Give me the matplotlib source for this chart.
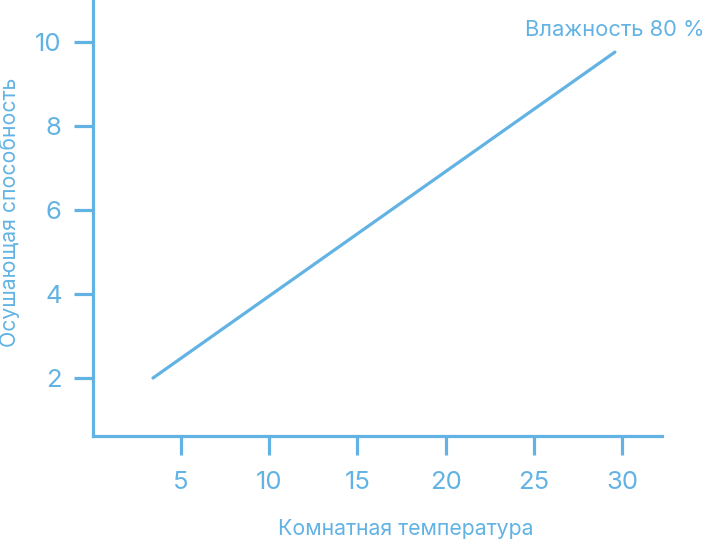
import matplotlib
matplotlib.use("Agg")
import matplotlib.pyplot as plt

temperature = [3.4, 29.6]
capacity = [2.0, 9.76]
xticks = [5, 10, 15, 20, 25, 30]
yticks = [2, 4, 6, 8, 10]
series_label = "Влажность 80 %"
xlabel = "Комнатная температура"
ylabel = "Осушающая способность"

color = "#62b3e4"
plt.rcParams['font.family'] = ['Inter', 'DejaVu Sans']

fig = plt.figure(figsize=(7.06, 5.43), dpi=100)
ax = fig.add_axes([93/706, (543-436)/543, (662-93)/706, 436/543])
ax.plot(temperature, capacity, color=color, lw=2.3, solid_capstyle='round')
ax.set_xlim(0, 32.27)
ax.set_ylim(0.62, 11.0)
ax.set_xticks(xticks)
ax.set_yticks(yticks)
for s in ['top', 'right']:
    ax.spines[s].set_visible(False)
for s in ['left', 'bottom']:
    ax.spines[s].set_color(color)
    ax.spines[s].set_linewidth(2.3)
ax.tick_params(axis='both', colors=color, length=13.5, width=2.3, labelsize=18.5)
ax.tick_params(axis='x', pad=12)
ax.tick_params(axis='y', pad=9)
ax.set_xlabel(xlabel, color=color, fontsize=15.3, va='center', ha='center')
ax.set_ylabel(ylabel, color=color, fontsize=15.3, va='center', ha='center')
ax.xaxis.set_label_coords((406-93)/569, (436-529)/436)
ax.yaxis.set_label_coords((10-93)/569, (436-212)/436)
fig.text(705/706, 1 - 30/543, series_label, color=color, fontsize=15.8,
         ha='right', va='center')
fig.savefig("out.png", dpi=100)
